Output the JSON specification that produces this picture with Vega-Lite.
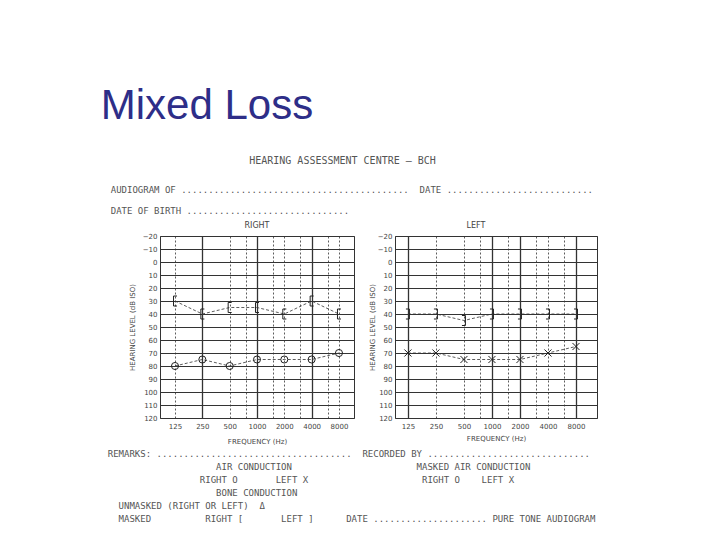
{
  "$schema": "https://vega.github.io/schema/vega-lite/v6.json",
  "padding": {"left": 100, "top": 84, "right": 5, "bottom": 5},
  "background": "white",
  "title": {"text": "Mixed Loss", "anchor": "start", "font": "Liberation Sans", "fontSize": 42, "fontWeight": "normal", "color": "#2e2e88", "dx": -7, "offset": 28},
  "config": {
    "view": {"stroke": "#333", "strokeWidth": 1},
    "axis": {"labelFont": "DejaVu Sans", "labelFontSize": 7, "labelColor": "#444", "titleFont": "DejaVu Sans", "titleFontSize": 7, "titleFontWeight": "normal", "titleColor": "#444", "ticks": false, "domain": false, "gridColor": "#333", "gridOpacity": 1, "labelOverlap": false},
    "concat": {"spacing": 12}
  },
  "datasets": {
    "audio": [
      {"ear": "Right", "test": "bone", "freq": 125, "db": 30},
      {"ear": "Right", "test": "bone", "freq": 250, "db": 40},
      {"ear": "Right", "test": "bone", "freq": 500, "db": 35},
      {"ear": "Right", "test": "bone", "freq": 1000, "db": 35},
      {"ear": "Right", "test": "bone", "freq": 2000, "db": 40},
      {"ear": "Right", "test": "bone", "freq": 4000, "db": 30},
      {"ear": "Right", "test": "bone", "freq": 8000, "db": 40},
      {"ear": "Right", "test": "air", "freq": 125, "db": 80},
      {"ear": "Right", "test": "air", "freq": 250, "db": 75},
      {"ear": "Right", "test": "air", "freq": 500, "db": 80},
      {"ear": "Right", "test": "air", "freq": 1000, "db": 75},
      {"ear": "Right", "test": "air", "freq": 2000, "db": 75},
      {"ear": "Right", "test": "air", "freq": 4000, "db": 75},
      {"ear": "Right", "test": "air", "freq": 8000, "db": 70},
      {"ear": "Left", "test": "bone", "freq": 125, "db": 40},
      {"ear": "Left", "test": "bone", "freq": 250, "db": 40},
      {"ear": "Left", "test": "bone", "freq": 500, "db": 45},
      {"ear": "Left", "test": "bone", "freq": 1000, "db": 40},
      {"ear": "Left", "test": "bone", "freq": 2000, "db": 40},
      {"ear": "Left", "test": "bone", "freq": 4000, "db": 40},
      {"ear": "Left", "test": "bone", "freq": 8000, "db": 40},
      {"ear": "Left", "test": "air", "freq": 125, "db": 70},
      {"ear": "Left", "test": "air", "freq": 250, "db": 70},
      {"ear": "Left", "test": "air", "freq": 500, "db": 75},
      {"ear": "Left", "test": "air", "freq": 1000, "db": 75},
      {"ear": "Left", "test": "air", "freq": 2000, "db": 75},
      {"ear": "Left", "test": "air", "freq": 4000, "db": 70},
      {"ear": "Left", "test": "air", "freq": 8000, "db": 65}
    ]
  },
  "vconcat": [
    {
      "title": {
        "text": "\u200b\u00a0\u00a0\u00a0\u00a0\u00a0\u00a0\u00a0\u00a0\u00a0\u00a0\u00a0\u00a0\u00a0\u00a0\u00a0\u00a0\u00a0\u00a0\u00a0\u00a0\u00a0\u00a0\u00a0HEARING ASSESSMENT CENTRE – BCH",
        "subtitle": [
          "AUDIOGRAM OF ..........................................\u00a0\u00a0DATE ...........................",
          "DATE OF BIRTH .............................."
        ],
        "anchor": "start", "dx": 3, "font": "DejaVu Sans Mono", "fontSize": 10, "fontWeight": "normal", "color": "#555",
        "subtitleFont": "DejaVu Sans Mono", "subtitleFontSize": 9, "subtitleColor": "#555", "subtitlePadding": 20, "subtitleLineHeight": 21, "offset": 6
      },
      "vconcat": [
        {
          "title": {
            "text": [
              "REMARKS: ....................................\u00a0\u00a0RECORDED BY ..............................",
              "\u200b\u00a0\u00a0\u00a0\u00a0\u00a0\u00a0\u00a0\u00a0\u00a0\u00a0\u00a0\u00a0\u00a0\u00a0\u00a0\u00a0\u00a0\u00a0\u00a0\u00a0AIR CONDUCTION\u00a0\u00a0\u00a0\u00a0\u00a0\u00a0\u00a0\u00a0\u00a0\u00a0\u00a0\u00a0\u00a0\u00a0\u00a0\u00a0\u00a0\u00a0\u00a0\u00a0\u00a0\u00a0\u00a0MASKED AIR CONDUCTION",
              "\u200b\u00a0\u00a0\u00a0\u00a0\u00a0\u00a0\u00a0\u00a0\u00a0\u00a0\u00a0\u00a0\u00a0\u00a0\u00a0\u00a0\u00a0RIGHT O\u00a0\u00a0\u00a0\u00a0\u00a0\u00a0\u00a0LEFT X\u00a0\u00a0\u00a0\u00a0\u00a0\u00a0\u00a0\u00a0\u00a0\u00a0\u00a0\u00a0\u00a0\u00a0\u00a0\u00a0\u00a0\u00a0\u00a0\u00a0\u00a0RIGHT O\u00a0\u00a0\u00a0\u00a0LEFT X",
              "\u200b\u00a0\u00a0\u00a0\u00a0\u00a0\u00a0\u00a0\u00a0\u00a0\u00a0\u00a0\u00a0\u00a0\u00a0\u00a0\u00a0\u00a0\u00a0\u00a0\u00a0BONE CONDUCTION",
              "\u200b\u00a0\u00a0UNMASKED (RIGHT OR LEFT)\u00a0\u00a0Δ",
              "\u200b\u00a0\u00a0MASKED\u00a0\u00a0\u00a0\u00a0\u00a0\u00a0\u00a0\u00a0\u00a0\u00a0RIGHT [\u00a0\u00a0\u00a0\u00a0\u00a0\u00a0\u00a0LEFT ]\u00a0\u00a0\u00a0\u00a0\u00a0\u00a0DATE .....................\u00a0PURE TONE AUDIOGRAM"
            ],
            "orient": "bottom", "anchor": "start", "dx": -20, "font": "DejaVu Sans Mono", "fontSize": 9, "lineHeight": 13, "color": "#555", "fontWeight": "normal", "offset": 5
          },
          "hconcat": [
            {
              "width": 194, "height": 182,
              "title": {"text": "RIGHT", "font": "DejaVu Sans", "fontSize": 8, "fontWeight": "normal", "color": "#444", "offset": 2},
              "data": {"name": "audio"},
              "transform": [{"filter": "datum.ear == 'Right'"}],
              "encoding": {
                "x": {"field": "freq", "type": "quantitative",
                  "scale": {"type": "log", "base": 2, "domain": [85.4, 11713], "nice": false},
                  "axis": {"title": "FREQUENCY (Hz)", "values": [125, 250, 500, 750, 1000, 1500, 2000, 3000, 4000, 6000, 8000],
                    "labelExpr": "(datum.value == 750 || datum.value == 1500 || datum.value == 3000 || datum.value == 6000) ? '' : format(datum.value, 'd')",
                    "labelPadding": 4, "titlePadding": 8, "grid": true,
                    "gridDash": {"condition": {"test": "datum.value == 250 || datum.value == 1000 || datum.value == 4000", "value": [1, 0]}, "value": [2, 2]},
                    "gridWidth": {"condition": {"test": "datum.value == 250 || datum.value == 1000 || datum.value == 4000", "value": 1.3}, "value": 0.8}}},
                "y": {"field": "db", "type": "quantitative",
                  "scale": {"domain": [-20, 120], "reverse": true, "nice": false, "zero": false},
                  "axis": {"title": "HEARING LEVEL (dB ISO)", "values": [-20, -10, 0, 10, 20, 30, 40, 50, 60, 70, 80, 90, 100, 110, 120], "labelPadding": 3, "titlePadding": 7, "grid": true, "gridWidth": 1.2}}
              },
              "layer": [
                {"mark": {"type": "line", "stroke": "#333", "strokeWidth": 0.8, "strokeDash": [3, 2]}, "encoding": {"detail": {"field": "test"}}},
                {"transform": [{"filter": "datum.test == 'bone'"}], "mark": {"type": "point", "shape": "M 0.4 -1 L -0.3 -1 L -0.3 1 L 0.4 1", "size": 100, "filled": false, "stroke": "#222", "strokeWidth": 1, "opacity": 1}},
                {"transform": [{"filter": "datum.test == 'air'"}], "mark": {"type": "point", "shape": "circle", "size": 50, "filled": false, "stroke": "#222", "strokeWidth": 1, "opacity": 1}}
              ]
            },
            {
              "width": 202, "height": 182,
              "title": {"text": "LEFT", "font": "DejaVu Sans", "fontSize": 8, "fontWeight": "normal", "color": "#444", "offset": 2, "dx": -20},
              "data": {"name": "audio"},
              "transform": [{"filter": "datum.ear == 'Left'"}],
              "encoding": {
                "x": {"field": "freq", "type": "quantitative",
                  "scale": {"type": "log", "base": 2, "domain": [90.8, 13454], "nice": false},
                  "axis": {"title": "FREQUENCY (Hz)", "values": [125, 250, 500, 750, 1000, 1500, 2000, 3000, 4000, 6000, 8000],
                    "labelExpr": "(datum.value == 750 || datum.value == 1500 || datum.value == 3000 || datum.value == 6000) ? '' : format(datum.value, 'd')",
                    "labelPadding": 4, "titlePadding": 5, "grid": true,
                    "gridDash": {"condition": {"test": "datum.value == 125 || datum.value == 1000 || datum.value == 2000 || datum.value == 8000", "value": [1, 0]}, "value": [2, 2]},
                    "gridWidth": {"condition": {"test": "datum.value == 125 || datum.value == 1000 || datum.value == 2000 || datum.value == 8000", "value": 1.3}, "value": 0.8}}},
                "y": {"field": "db", "type": "quantitative",
                  "scale": {"domain": [-20, 120], "reverse": true, "nice": false, "zero": false},
                  "axis": {"title": "HEARING LEVEL (dB ISO)", "values": [-20, -10, 0, 10, 20, 30, 40, 50, 60, 70, 80, 90, 100, 110, 120], "labelPadding": 3, "titlePadding": 2, "grid": true, "gridWidth": 1.2}}
              },
              "layer": [
                {"mark": {"type": "line", "stroke": "#333", "strokeWidth": 0.8, "strokeDash": [3, 2]}, "encoding": {"detail": {"field": "test"}}},
                {"transform": [{"filter": "datum.test == 'bone'"}], "mark": {"type": "point", "shape": "M -0.4 -1 L 0.3 -1 L 0.3 1 L -0.4 1", "size": 100, "filled": false, "stroke": "#222", "strokeWidth": 1, "opacity": 1}},
                {"transform": [{"filter": "datum.test == 'air'"}], "mark": {"type": "point", "shape": "M -1 -1 L 1 1 M -1 1 L 1 -1", "size": 50, "filled": false, "stroke": "#222", "strokeWidth": 1, "opacity": 1}}
              ]
            }
          ]
        }
      ]
    }
  ]
}
